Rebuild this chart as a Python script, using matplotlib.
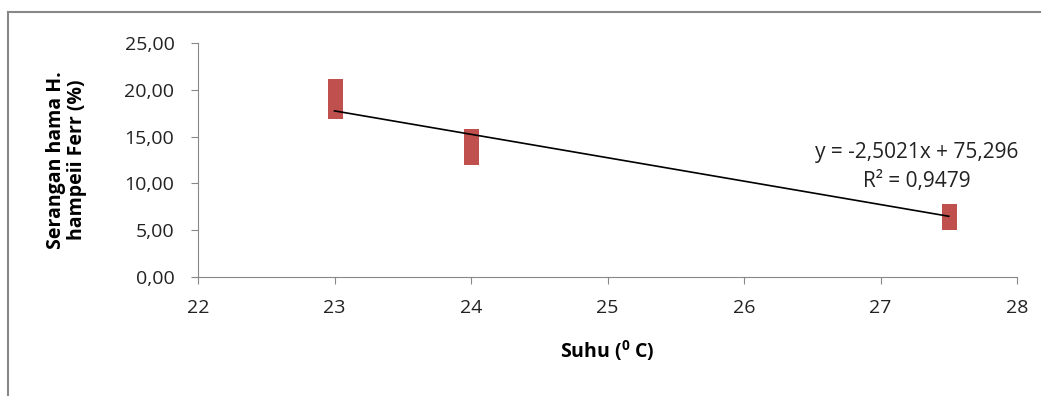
import matplotlib.pyplot as plt
from matplotlib.ticker import FuncFormatter, MultipleLocator
from matplotlib.lines import Line2D
import numpy as np

plt.rcParams['font.family'] = ['Open Sans', 'DejaVu Sans']
plt.rcParams['mathtext.fontset'] = 'custom'
plt.rcParams['mathtext.rm'] = 'Open Sans'
plt.rcParams['mathtext.bf'] = 'Open Sans:bold'

suhu = [23, 23, 23, 24, 24, 24, 27.5, 27.5, 27.5]
serangan = [17.7, 19.0, 20.4, 12.8, 14.0, 15.1, 5.9, 6.5, 7.05]

# trendline given on the chart
slope = -2.5021
intercept = 75.296
eq_text = "y = -2,5021x + 75,296"
r2_text = "R² = 0,9479"

fig = plt.figure(figsize=(10.49, 3.96), dpi=100)
ax = fig.add_axes([198/1049, 1 - 277/396, 819/1049, 234/396])

ax.plot(suhu, serangan, 's', color='#C0504D', markersize=10.8, markeredgewidth=0)
xl = np.array([min(suhu), max(suhu)])
ax.plot(xl, slope*xl + intercept, color='black', lw=1.2)

ax.set_xlim(22, 28)
ax.set_ylim(0, 25)
ax.yaxis.set_major_locator(MultipleLocator(5))
ax.xaxis.set_major_locator(MultipleLocator(1))
ax.yaxis.set_major_formatter(FuncFormatter(lambda v, p: f"{v:.2f}".replace('.', ',')))

for s in ['top', 'right']:
    ax.spines[s].set_visible(False)
for s in ['left', 'bottom']:
    ax.spines[s].set_color('#888888')
ax.tick_params(colors='#888888', labelcolor='#222222', labelsize=14, length=5)
ax.tick_params(axis='y', pad=12)
ax.tick_params(axis='x', pad=11)

ax.set_ylabel("Serangan hama H.\nhampeii Ferr (%)", fontsize=14, fontweight='bold',
              linespacing=1.05, labelpad=27)
ax.set_xlabel(r"Suhu ($^{\mathbf{0}}$ C)", fontsize=14, fontweight='bold', labelpad=15)

ax.text(0.878, 0.47, eq_text + "\n" + r2_text, transform=ax.transAxes,
        ha='center', va='center', fontsize=15, color='#222222', linespacing=1.45)

# outer chart border (top and left visible)
fig.add_artist(Line2D([8/1049, 1040/1049], [1 - 12/396, 1 - 12/396], color='#888888', lw=1.5))
fig.add_artist(Line2D([8/1049, 8/1049], [0, 1 - 12/396], color='#888888', lw=1.5))

fig.savefig('out.png', dpi=100)
